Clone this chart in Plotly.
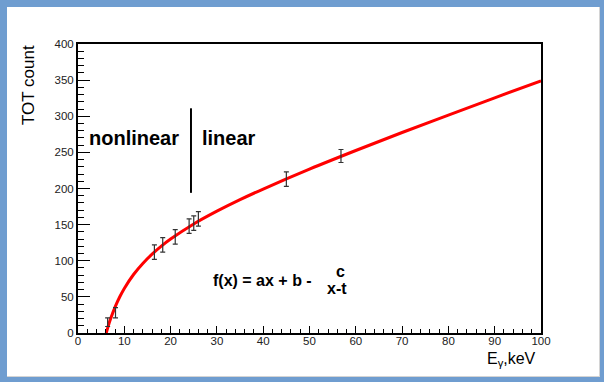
import plotly.graph_objects as go

# Measured calibration points
energy_kev = [6.4, 8.1, 16.5, 18.3, 21.0, 24.0, 25.0, 26.0, 45.0, 56.8]
tot_count = [15, 28, 112, 122, 133, 148, 152, 158, 213, 245]
tot_error = [6, 7, 10, 10, 10, 10, 10, 10, 10, 9]

# Fitted curve f(x) = ax + b - c/(x-t), sampled
fit_x = [6.1, 6.5, 7, 8, 9, 10, 12, 14, 16, 18, 20, 25, 30, 35, 40, 50, 60, 70, 80, 90, 100]
fit_y = [0, 8.9, 18.9, 35.8, 49.8, 61.7, 81.0, 96.3, 109.1, 120.2, 130.0,
         150.9, 168.6, 184.6, 199.3, 226.8, 252.6, 277.5, 301.6, 325.5, 349]

# Boundary between nonlinear and linear regimes
boundary_x = 24.4
boundary_y = [194, 311]

# Figure geometry (pixels)
W, H = 604, 382
L, R, T, B = 78, 63, 44, 49
PW, PH = W - L - R, H - T - B

def px(x):
    return (x - L) / PW

def py(y):
    return (H - B - y) / PH

FONT = "Liberation Sans, Arial, Helvetica, sans-serif"
FRAME = "#6f9dd0"

fig = go.Figure()

fig.add_trace(go.Scatter(
    x=fit_x, y=fit_y, mode="lines", line=dict(color="#ff0000", width=3, shape="spline"),
    hoverinfo="skip", showlegend=False,
))

fig.add_trace(go.Scatter(
    x=energy_kev, y=tot_count, mode="markers",
    marker=dict(size=1, color="#333333"),
    error_y=dict(type="data", array=tot_error, visible=True, color="#333333",
                 thickness=1.2, width=2.5),
    showlegend=False,
))

shapes = [
    dict(type="line", xref="x", yref="y", x0=boundary_x, x1=boundary_x,
         y0=boundary_y[0], y1=boundary_y[1], line=dict(color="black", width=2)),
]
# Blue frame around the canvas
bands = [(0, 0, 7, H), (600, 0, W, H), (0, 0, W, 7), (0, 377, W, H)]
for x0, y0, x1, y1 in bands:
    shapes.append(dict(type="rect", xref="paper", yref="paper", layer="above",
                       x0=px(x0), x1=px(x1), y0=py(y1), y1=py(y0),
                       fillcolor=FRAME, line=dict(width=0)))
# faint shadow line inside the frame
shapes.append(dict(type="line", xref="paper", yref="paper", layer="above",
                   x0=px(599.5), x1=px(599.5), y0=py(377), y1=py(7),
                   line=dict(color="#d4d4d4", width=1)))
shapes.append(dict(type="line", xref="paper", yref="paper", layer="above",
                   x0=px(7), x1=px(600), y0=py(376.5), y1=py(376.5),
                   line=dict(color="#d4d4d4", width=1)))

annotations = [
    dict(x=boundary_x - 2.2, y=270, xref="x", yref="y", text="<b>nonlinear</b>",
         showarrow=False, xanchor="right", yanchor="middle",
         font=dict(family=FONT, size=20, color="black")),
    dict(x=boundary_x + 2.0, y=270, xref="x", yref="y", text="<b>linear</b>",
         showarrow=False, xanchor="left", yanchor="middle",
         font=dict(family=FONT, size=20, color="black")),
    dict(x=40.3, y=73, xref="x", yref="y", text="<b>f(x) = ax + b - </b>",
         showarrow=False, xanchor="center", yanchor="middle",
         font=dict(family=FONT, size=16, color="black")),
    dict(x=56.6, y=85.5, xref="x", yref="y", text="<b>c</b>",
         showarrow=False, xanchor="center", yanchor="middle",
         font=dict(family=FONT, size=16, color="black")),
    dict(x=55.9, y=61.5, xref="x", yref="y", text="<b>x-t</b>",
         showarrow=False, xanchor="center", yanchor="middle",
         font=dict(family=FONT, size=16, color="black")),
    dict(x=px(29), y=py(85), xref="paper", yref="paper", text="TOT count",
         textangle=-90, showarrow=False, xanchor="center", yanchor="middle",
         font=dict(family=FONT, size=17, color="black")),
    dict(x=px(538), y=py(359), xref="paper", yref="paper", text="E<sub>γ</sub>,keV",
         showarrow=False, xanchor="right", yanchor="middle",
         font=dict(family=FONT, size=16, color="black")),
]

axis_common = dict(
    showline=True, linecolor="black", linewidth=2, mirror=True,
    showgrid=False, zeroline=False, ticks="inside", tickcolor="black",
    tickfont=dict(family=FONT, size=11.5, color="#222222"),
)

fig.update_layout(
    width=W, height=H,
    margin=dict(l=L, r=R, t=T, b=B, pad=0),
    paper_bgcolor="white", plot_bgcolor="white",
    xaxis=dict(range=[0, 100], dtick=10, tick0=0, ticklen=7, tickwidth=1,
               ticklabelstandoff=-4,
               minor=dict(dtick=2, ticks="inside", ticklen=4, tickcolor="black", tickwidth=1),
               **axis_common),
    yaxis=dict(range=[0, 400], dtick=50, tick0=0, ticklen=12, tickwidth=1,
               minor=dict(dtick=10, ticks="inside", ticklen=6, tickcolor="black", tickwidth=1),
               **axis_common),
    shapes=shapes,
    annotations=annotations,
    showlegend=False,
)

fig.write_html("out.html")
